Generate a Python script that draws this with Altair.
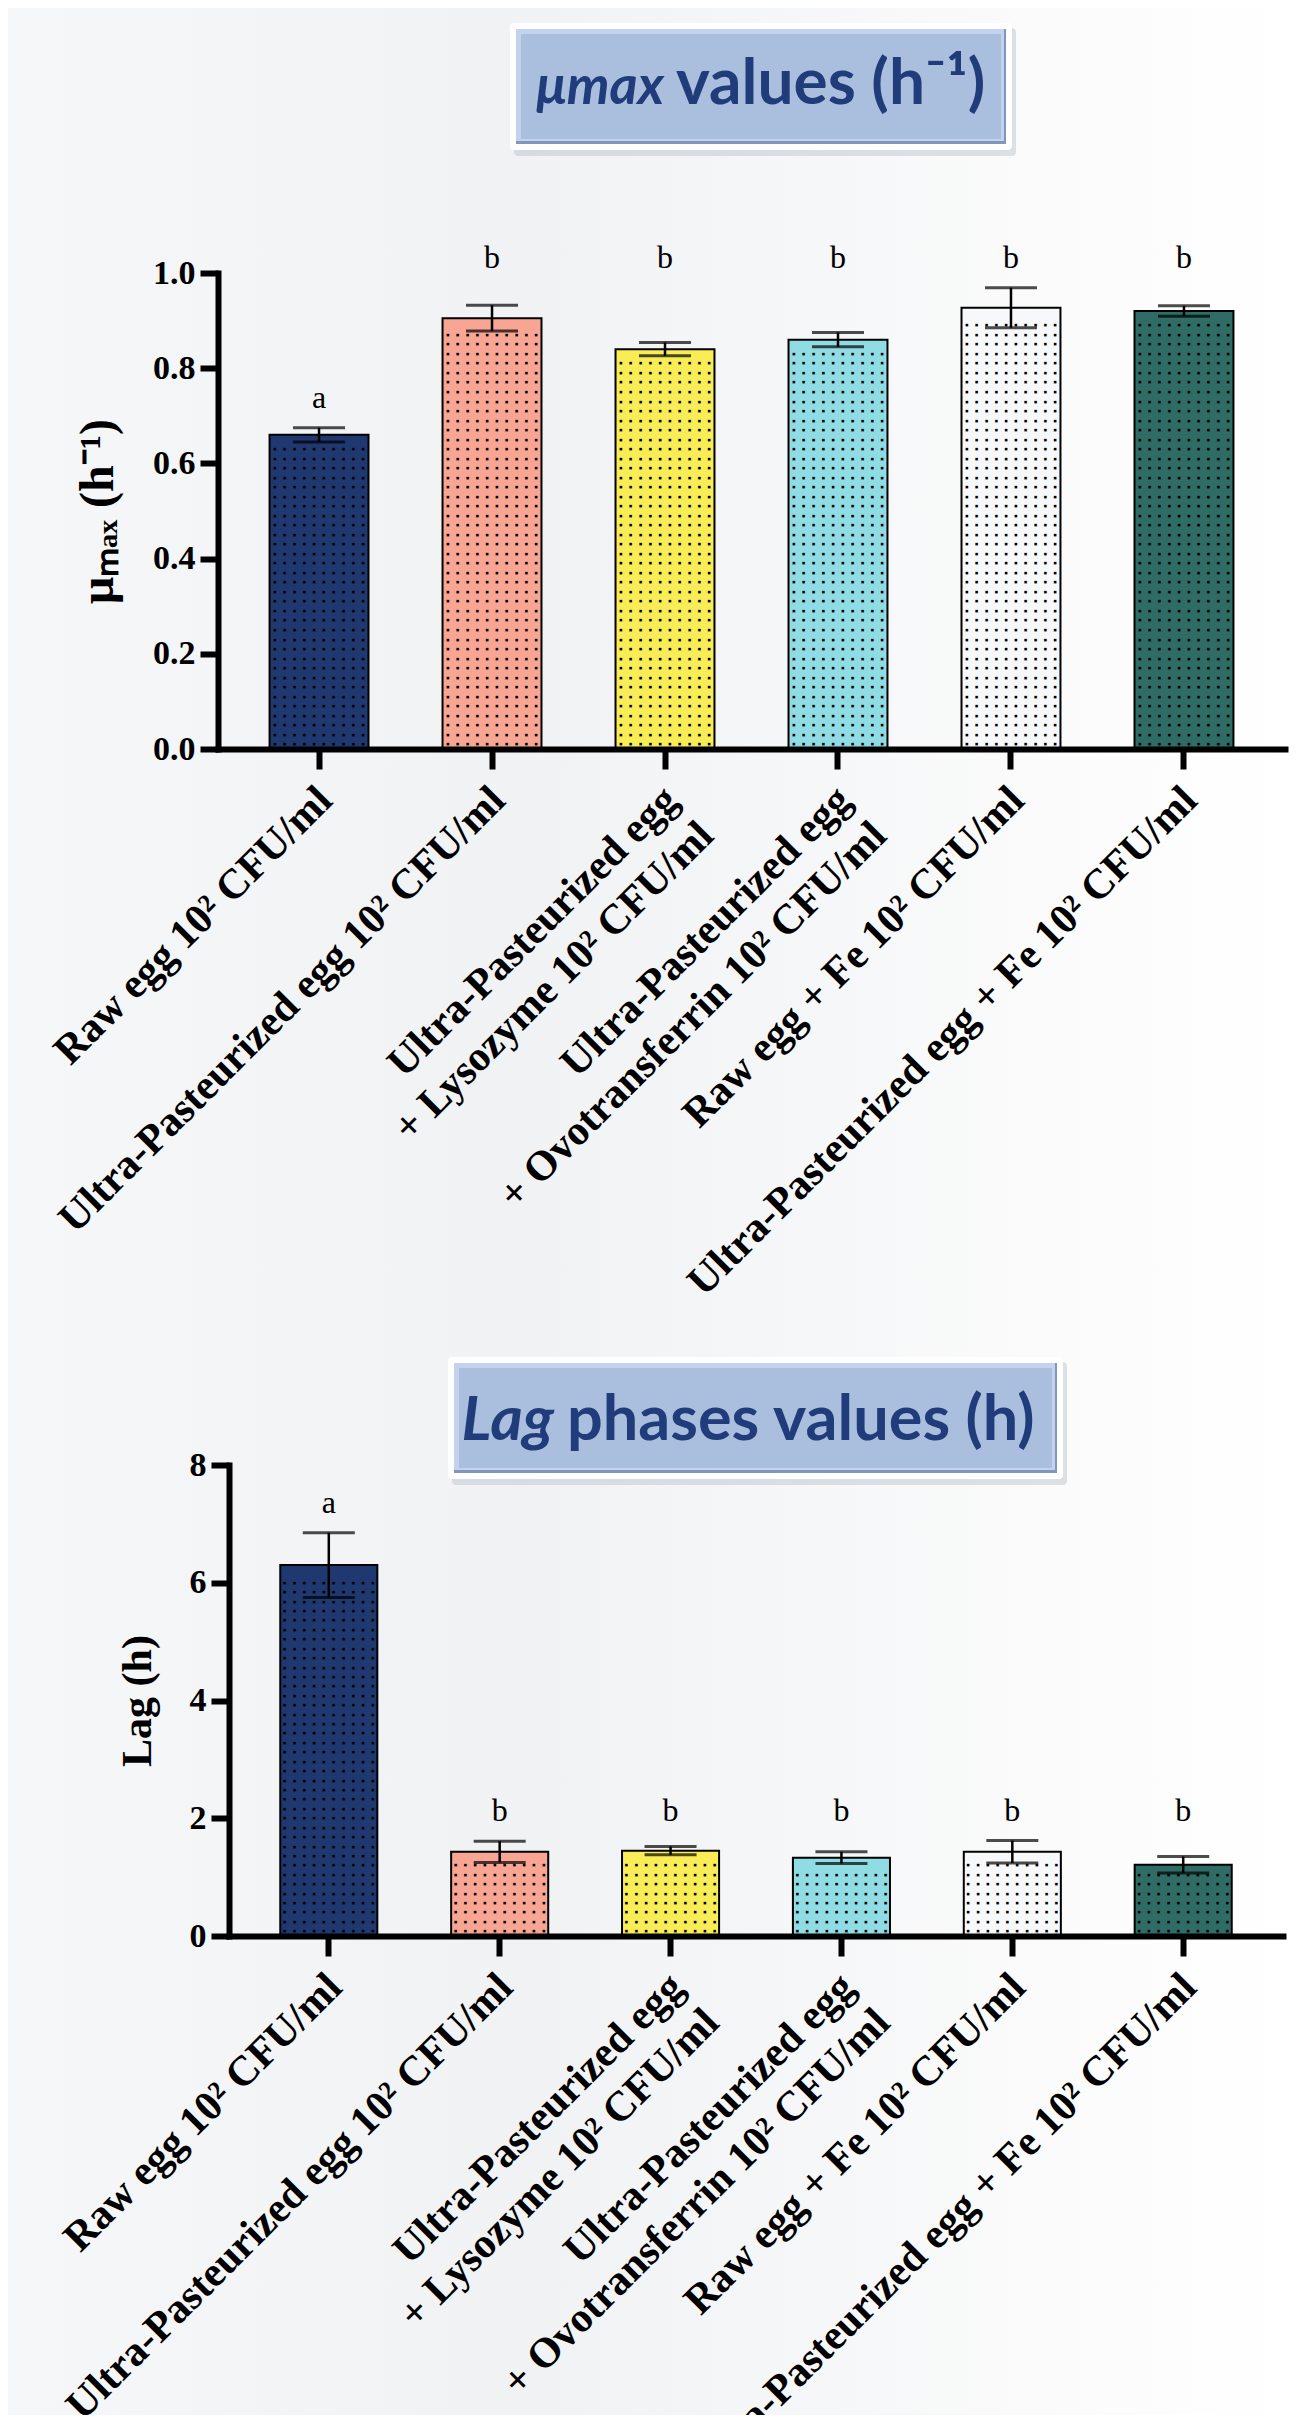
import altair as alt
import pandas as pd

# ---------------- data ----------------
categories = [
    "Raw egg 10² CFU/ml",
    "Ultra-Pasteurized egg 10² CFU/ml",
    "Ultra-Pasteurized egg|+ Lysozyme 10² CFU/ml",
    "Ultra-Pasteurized egg|+ Ovotransferrin 10² CFU/ml",
    "Raw egg + Fe 10² CFU/ml",
    "Ultra-Pasteurized egg + Fe 10² CFU/ml",
]
bar_colors = ["#1F3870", "#F8A594", "#F8EC57", "#90DCE5", "#F7F8FA", "#2F6C66"]

mu_mean = [0.66, 0.905, 0.84, 0.86, 0.927, 0.92]
mu_sd = [0.015, 0.027, 0.014, 0.015, 0.042, 0.011]
mu_letters = ["a", "b", "b", "b", "b", "b"]
mu_ticks = [0.0, 0.2, 0.4, 0.6, 0.8, 1.0]

lag_mean = [6.3, 1.43, 1.45, 1.33, 1.43, 1.21]
lag_sd = [0.55, 0.18, 0.07, 0.10, 0.19, 0.14]
lag_letters = ["a", "b", "b", "b", "b", "b"]
lag_ticks = [0, 2, 4, 6, 8]

# ---------------- layout ----------------
W, H = 1285, 2407
M = 8
SERIF = "Liberation Serif"
SANS = "Lato"
BLUE_TXT = "#213C7A"
DOT_COLS = 10

one = pd.DataFrame({"k": [0]})


def p(v):
    return v - M


def panel(mean, sd, letters, ydomain, yticks, yfmt, ytitle, ytitle_size,
          x_left, x_right, y_zero, y_top, pin, pout, dot_step, letter_dy):
    df = pd.DataFrame({"cat": categories, "mean": mean, "sd": sd, "letter": letters})
    df["lo"] = df["mean"] - df["sd"]
    df["hi"] = df["mean"] + df["sd"]

    xscale = alt.Scale(domain=categories, range=[p(x_left), p(x_right)],
                       paddingInner=pin, paddingOuter=pout)
    yscale = alt.Scale(domain=ydomain, range=[p(y_zero), p(y_top)], nice=False, zero=True)
    xaxis = alt.Axis(
        orient="bottom", offset=p(y_zero) - H, zindex=2,
        labelExpr="split(datum.label, '|')",
        labelAngle=-45, labelAlign="right", labelBaseline="middle",
        labelFont=SERIF, labelFontWeight="bold", labelFontSize=42, labelColor="black",
        labelLimit=3000, labelOffset=6, labelPadding=24, labelLineHeight=50,
        labelOverlap=False,
        domainColor="black", domainWidth=6, domainCap="square",
        tickColor="black", tickWidth=6, tickSize=20, grid=False, title=None,
    )
    yaxis = alt.Axis(
        orient="left", offset=-p(x_left), values=yticks, format=yfmt, zindex=2,
        labelFont=SERIF, labelFontWeight="bold", labelFontSize=34, labelColor="black",
        labelPadding=5,
        domainColor="black", domainWidth=6, domainCap="square",
        tickColor="black", tickWidth=6, tickSize=18, grid=False,
        title=ytitle, titleFont=SERIF, titleFontWeight="bold", titleFontSize=ytitle_size,
        titleColor="black", titlePadding=30,
    )

    def X():
        return alt.X("cat:N", sort=categories, scale=xscale, axis=xaxis)

    def Y(field):
        return alt.Y(f"{field}:Q", scale=yscale, axis=yaxis)

    base = alt.Chart(df)
    bars = base.mark_bar(stroke="black", strokeWidth=2).encode(
        x=X(), y=Y("mean"),
        color=alt.Color("cat:N", scale=alt.Scale(domain=categories, range=bar_colors), legend=None),
    )
    dot_rows = (
        base.transform_calculate(rows=f"sequence(0, floor(datum.mean / {dot_step} - 0.5))")
        .transform_flatten(["rows"])
        .transform_calculate(doty=f"(datum.rows + 0.5) * {dot_step}")
    )
    dot_layers = [
        dot_rows.mark_text(text="■", font="DejaVu Sans", fontSize=3.4, color="black",
                           align="center", baseline="middle", dx=-44.1 + 9.8 * i)
        .encode(x=X(), y=Y("doty"))
        for i in range(DOT_COLS)
    ]
    rule = base.mark_rule(color="black", strokeWidth=2.5).encode(x=X(), y=Y("lo"), y2="hi:Q")
    cap_lo = base.mark_tick(color="black", size=52, thickness=3).encode(x=X(), y=Y("lo"))
    cap_hi = base.mark_tick(color="black", size=52, thickness=3).encode(x=X(), y=Y("hi"))
    lett = (
        base.transform_joinaggregate(top="max(hi)", groupby=["letter"])
        .mark_text(font=SERIF, fontSize=32, color="black", baseline="alphabetic", dy=-letter_dy)
        .encode(x=X(), y=Y("top"), text="letter:N")
    )
    return alt.layer(bars, *dot_layers, rule, cap_lo, cap_hi, lett)


def rect(x1, y1, x2, y2, **kw):
    return alt.Chart(one).mark_rect(**kw).encode(
        x=alt.value(p(x1)), x2=alt.value(p(x2)), y=alt.value(p(y1)), y2=alt.value(p(y2))
    )


def label(txt, x, y, align, italic=False, size=60):
    kw = dict(text=txt, font=SANS, fontSize=size, fontWeight="bold", color=BLUE_TXT,
              align=align, baseline="alphabetic")
    if italic:
        kw["fontStyle"] = "italic"
    return alt.Chart(one).mark_text(**kw).encode(x=alt.value(p(x)), y=alt.value(p(y)))


def title_box(x1, y1, x2, y2):
    return [
        rect(x1 + 4, y1 + 5, x2 + 4, y2 + 6, fill="#B9BEC6", opacity=0.45, cornerRadius=4),
        rect(x1, y1, x2, y2, fill="#FFFFFF", cornerRadius=4),
        rect(x1 + 6, y1 + 6, x2 - 6, y2 - 6, fill="#8296BA"),
        rect(x1 + 6, y1 + 6, x2 - 8, y2 - 9, fill="#C3D3EE"),
        rect(x1 + 11, y1 + 11, x2 - 11, y2 - 11, fill="#AABEDE"),
    ]


bg = alt.Chart(one).mark_rect(
    color=alt.LinearGradient(
        gradient="linear",
        stops=[alt.GradientStop(color="#F6F7F8", offset=0),
               alt.GradientStop(color="#F1F2F4", offset=0.4),
               alt.GradientStop(color="#FFFFFF", offset=1)],
        x1=0, x2=1, y1=0, y2=0,
    )
).encode(x=alt.value(0), x2=alt.value(W), y=alt.value(0), y2=alt.value(H))

box1 = title_box(510, 23, 1012, 150)
t1a = label("μmax", 664, 104, "right", italic=True, size=54)
t1b = label("values (h⁻¹)", 676, 104, "left", size=64)

box2 = title_box(448, 1357, 1063, 1479)
t2a = label("Lag", 554, 1440, "right", italic=True, size=62)
t2b = label("phases values (h)", 567, 1440, "left", size=63)

panel1 = panel(mu_mean, mu_sd, mu_letters, [0, 1.0], mu_ticks, ".1f", "μₘₐₓ (h⁻¹)", 48,
               218, 1285, 749, 273, 0.428, 0.298, 0.02, 20)
panel2 = panel(lag_mean, lag_sd, lag_letters, [0, 8], lag_ticks, "d", "Lag (h)", 42,
               229, 1283, 1936, 1465, 0.432, 0.30, 0.16, 20)

chart = (
    alt.layer(bg, *box1, t1a, t1b, panel1, *box2, t2a, t2b, panel2)
    .resolve_scale(x="independent", y="independent")
    .properties(width=W, height=H, padding=0, autosize=alt.AutoSizeParams(type="none"),
                background="#FFFFFF")
    .configure_view(stroke=None)
)

chart.save("out.html", embed_options={"renderer": "svg", "actions": False})
